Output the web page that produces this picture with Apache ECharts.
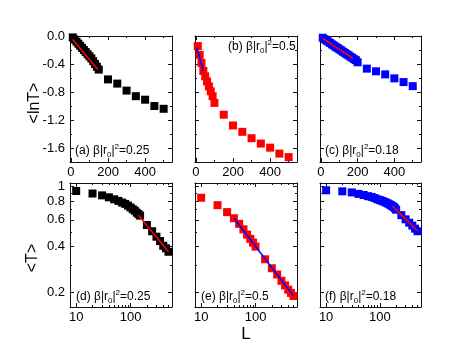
<!DOCTYPE html>
<html><head><meta charset="utf-8">
<script src="https://cdn.jsdelivr.net/npm/echarts@6/dist/echarts.min.js"></script>
<style>html,body{margin:0;padding:0;background:#fff}#c{width:469px;height:358px}</style>
</head><body><div id="c"></div>
<script>
// ---- data ----
const L_a = [10,20,30,40,50,60,70,80,90,100,110,120,130,140,150,200,250,300,350,400,450,500];
const lnT_a = [-0.02,-0.05,-0.08,-0.11,-0.14,-0.17,-0.20,-0.23,-0.26,-0.29,-0.32,-0.36,-0.40,-0.44,-0.48,-0.62,-0.68,-0.78,-0.86,-0.91,-1.00,-1.04];
const T_d = [0.93,0.895,0.87,0.845,0.82,0.80,0.78,0.765,0.745,0.725,0.705,0.69,0.67,0.655,0.64,0.555,0.505,0.465,0.435,0.405,0.39,0.37];

const L_b = [10,20,30,40,50,60,70,80,90,100,150,200,250,300,350,400,450,500];
const lnT_b = [-0.144,-0.27,-0.385,-0.50,-0.576,-0.65,-0.72,-0.79,-0.86,-0.955,-1.124,-1.278,-1.369,-1.46,-1.537,-1.595,-1.68,-1.73];
const T_e = [0.84,0.75,0.675,0.615,0.565,0.52,0.48,0.45,0.425,0.40,0.33,0.288,0.262,0.238,0.222,0.208,0.198,0.189];

const L_c = [10,20,30,40,50,60,70,80,90,100,110,120,130,140,150,160,170,180,190,200,250,300,350,400,450,500];
const lnT_c = [-0.025,-0.045,-0.065,-0.08,-0.10,-0.12,-0.135,-0.155,-0.17,-0.19,-0.205,-0.225,-0.24,-0.26,-0.275,-0.295,-0.31,-0.33,-0.345,-0.375,-0.466,-0.504,-0.548,-0.605,-0.658,-0.716];
const T_f = [0.94,0.925,0.91,0.89,0.875,0.86,0.85,0.835,0.82,0.81,0.80,0.79,0.78,0.77,0.76,0.75,0.74,0.73,0.715,0.70,0.645,0.605,0.575,0.55,0.525,0.505];

// fitted lines (end points)
const fitA_L = [10,145],  fitA_v = [-0.05,-0.48];
const fitB_L = [5,40],    fitB_v = [-0.165,-0.50];
const fitC_L = [10,175],  fitC_v = [-0.035,-0.32];
const fitD_L = [140,500], fitD_v = [0.644,0.37];
const fitE_L = [40,500],  fitE_v = [0.618,0.189];
const fitF_L = [170,500], fitF_v = [0.739,0.508];

// ticks
const topXMajor = [0,200,400], topXMinor = [100,300,500];
const topYMajor = [0,-0.4,-0.8,-1.2,-1.6], topYMinor = [-0.2,-0.6,-1.0,-1.4,-1.8];
const botXMajor = [10,100], botXMinor = [20,30,40,50,60,70,80,90,200,300,400,500];
const botYMajor = [0.2,0.4,0.6,0.8,1], botYMinor = [0.3,0.5,0.7,0.9];

const labels = ['(a) β|r{s|0}|{p|2}=0.25','(b) β|r{s|0}|{p|2}=0.5','(c) β|r{s|0}|{p|2}=0.18',
                '(d) β|r{s|0}|{p|2}=0.25','(e) β|r{s|0}|{p|2}=0.5','(f) β|r{s|0}|{p|2}=0.18'];

// ---- layout ----
const FONT = 'Liberation Sans, Arial, Helvetica, sans-serif';
const grids = [
  {left:70, top:36, width:102, height:126},
  {left:195, top:36, width:102, height:126},
  {left:320, top:36, width:101, height:126},
  {left:70, top:183, width:102, height:124},
  {left:195, top:183, width:102, height:124},
  {left:320, top:183, width:101, height:124}
];

function axisSet(dim, gi, type, min, max, major, minor, showLabels, fmt) {
  const base = {gridIndex: gi, type: type, min: min, max: max, splitLine:{show:false}, scale:true};
  if (type === 'log') base.logBase = 10;
  const line = {show:true, onZero:false, lineStyle:{color:'#111', width:1}};
  const noLine = {show:false, onZero:false};
  const tk = (vals, len) => ({show:true, inside:true, length:len, customValues: vals, lineStyle:{color:'#111', width:1}});
  const posA = dim === 'x' ? 'bottom' : 'left';
  const posB = dim === 'x' ? 'top' : 'right';
  return [
    Object.assign({}, base, {position: posA, axisLine: line, axisTick: tk(major, 4),
      axisLabel: {show: showLabels, customValues: major, formatter: fmt, color:'#000', fontSize:13, fontFamily: FONT, margin: dim === 'x' ? 4 : 5, hideOverlap:false}}),
    Object.assign({}, base, {position: posA, axisLine: noLine, axisTick: tk(minor, 2), axisLabel:{show:false}}),
    Object.assign({}, base, {position: posB, axisLine: line, axisTick: tk(major, 4), axisLabel:{show:false}}),
    Object.assign({}, base, {position: posB, axisLine: noLine, axisTick: tk(minor, 2), axisLabel:{show:false}})
  ];
}

const xAxes = [], yAxes = [];
for (let gi = 0; gi < 6; gi++) {
  if (gi < 3) {
    xAxes.push(...axisSet('x', gi, 'value', -5, 545, topXMajor, topXMinor, true, v => String(v)));
    yAxes.push(...axisSet('y', gi, 'value', -1.8, 0, topYMajor, topYMinor, gi === 0, v => (+v).toFixed(1)));
  } else {
    xAxes.push(...axisSet('x', gi, 'log', 7.7, 580, botXMajor, botXMinor, true, v => String(Math.round(v))));
    yAxes.push(...axisSet('y', gi, 'log', 0.16, 1.05, botYMajor, botYMinor, gi === 3, v => String(+(+v).toFixed(2))));
  }
}

const panels = [
  {L: L_a, v: lnT_a, color: '#000000', fitL: fitA_L, fitV: fitA_v, fitColor: '#ff0000'},
  {L: L_b, v: lnT_b, color: '#ff0000', fitL: fitB_L, fitV: fitB_v, fitColor: '#0000ff'},
  {L: L_c, v: lnT_c, color: '#0000ff', fitL: fitC_L, fitV: fitC_v, fitColor: '#ff0000'},
  {L: L_a, v: T_d, color: '#000000', fitL: fitD_L, fitV: fitD_v, fitColor: '#ff0000'},
  {L: L_b, v: T_e, color: '#ff0000', fitL: fitE_L, fitV: fitE_v, fitColor: '#0000ff'},
  {L: L_c, v: T_f, color: '#0000ff', fitL: fitF_L, fitV: fitF_v, fitColor: '#ff0000'}
];

const series = [];
panels.forEach((p, gi) => {
  series.push({
    type: 'scatter', xAxisIndex: gi*4, yAxisIndex: gi*4, symbol: 'rect', symbolSize: 8,
    itemStyle: {color: p.color, opacity: 1}, z: 2, silent: true,
    data: p.L.map((x, i) => [x, p.v[i]])
  });
  series.push({
    type: 'line', xAxisIndex: gi*4, yAxisIndex: gi*4, showSymbol: false, symbol: 'none',
    lineStyle: {color: p.fitColor, width: 1.5}, z: 3, silent: true,
    data: p.fitL.map((x, i) => [x, p.fitV[i]])
  });
});

const richStyle = {
  s: {fontSize: 8, fontFamily: FONT, verticalAlign: 'bottom', lineHeight: 16, fill: '#000'},
  p: {fontSize: 8, fontFamily: FONT, verticalAlign: 'top', lineHeight: 16, fill: '#000'}
};
const labelPos = [[75,151],[228,47],[325,151],[76,297],[201,297],[325,297]];
const graphics = labelPos.map((pt, i) => ({
  type: 'text', x: pt[0], y: pt[1], z: 10,
  style: {text: labels[i], font: '12px ' + FONT, fill: '#000', textVerticalAlign: 'middle', lineHeight: 16, rich: richStyle}
}));
graphics.push({type:'text', x:35, y:103, rotation: Math.PI/2, z:10,
  style:{text:'<lnT>', font:'16px ' + FONT, fill:'#000', textAlign:'center', textVerticalAlign:'middle'}});
graphics.push({type:'text', x:33, y:258, rotation: Math.PI/2, z:10,
  style:{text:'<T>', font:'16px ' + FONT, fill:'#000', textAlign:'center', textVerticalAlign:'middle'}});
graphics.push({type:'text', x:246, y:334, z:10,
  style:{text:'L', font:'17px ' + FONT, fill:'#000', textAlign:'center', textVerticalAlign:'middle'}});

const chart = echarts.init(document.getElementById('c'), null, {renderer: 'canvas'});
chart.setOption({
  animation: false,
  backgroundColor: '#fff',
  grid: grids,
  xAxis: xAxes,
  yAxis: yAxes,
  series: series,
  graphic: graphics
});
</script></body></html>
